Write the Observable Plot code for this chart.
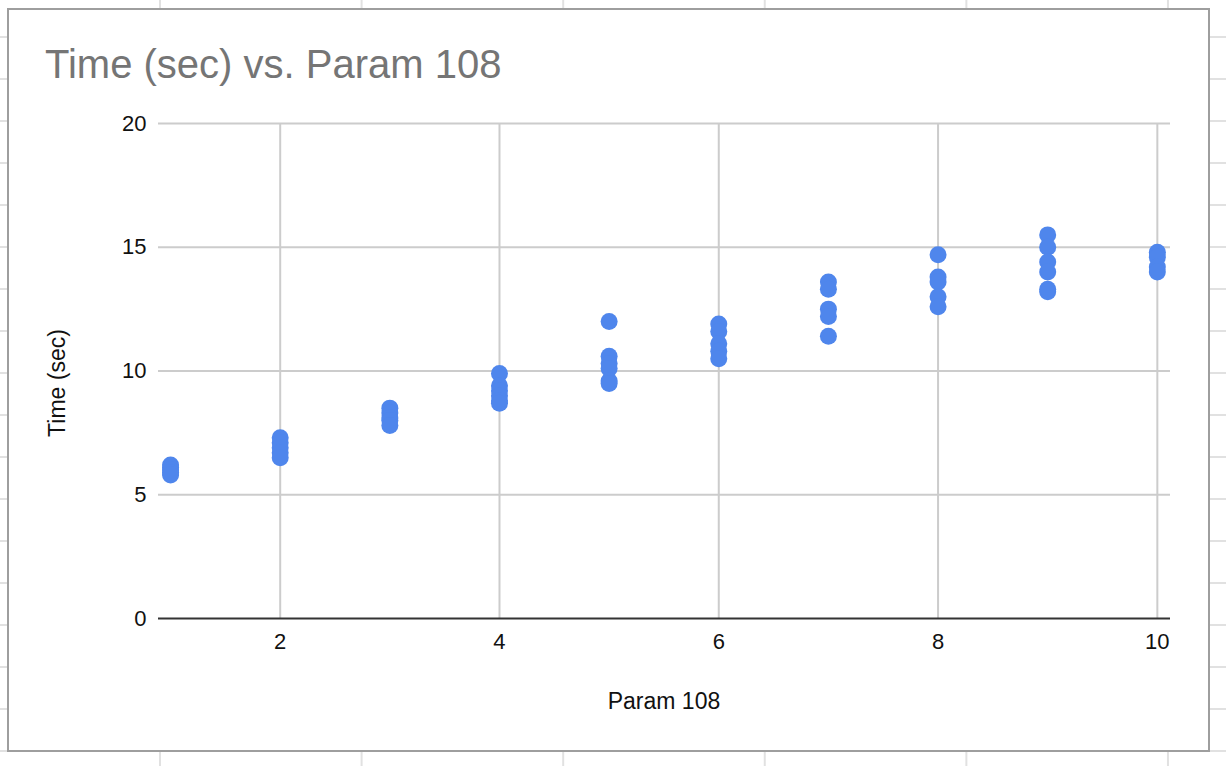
<!DOCTYPE html>
<html>
<head>
<meta charset="utf-8">
<script src="https://cdn.jsdelivr.net/npm/d3@7"></script>
<script src="https://cdn.jsdelivr.net/npm/@observablehq/plot@0.6"></script>
<style>
  html, body { margin: 0; padding: 0; }
  body {
    width: 1226px; height: 766px; position: relative; overflow: hidden;
    background-color: #fff;
    background-image:
      linear-gradient(to right, #e1e1e1 2px, transparent 2px),
      linear-gradient(to bottom, #e1e1e1 2px, transparent 2px);
    background-size: 201.6px 42px, 201.6px 42px;
    background-position: 159px 36px, 159px 36px;
    font-family: "Liberation Sans", Arial, sans-serif;
  }
  #frame {
    position: absolute; left: 7px; top: 8px; width: 1199px; height: 740px;
    border: 2px solid #9e9e9e; background: #fff;
  }
  #chart { position: absolute; left: 0; top: 0; }
  .title {
    position: absolute; left: 45px; top: 44px; font-size: 40px; line-height: 40px;
    color: #757575; white-space: nowrap;
  }
  .xlabel {
    position: absolute; left: 664px; top: 690px; font-size: 23px; line-height: 23px;
    color: #111; transform: translateX(-50%); white-space: nowrap;
  }
  .ylabel {
    position: absolute; left: 57px; top: 383px; font-size: 23px; line-height: 23px;
    color: #111; transform: translate(-50%, -50%) rotate(-90deg); white-space: nowrap;
  }
</style>
</head>
<body>
<div id="frame"></div>
<div id="chart"></div>
<div class="title">Time (sec) vs. Param 108</div>
<div class="ylabel">Time (sec)</div>
<div class="xlabel">Param 108</div>
<script>
const chartTitle = "Time (sec) vs. Param 108";
const xLabel = "Param 108";
const yLabel = "Time (sec)";

const param108 = [1,1,1,1,1, 2,2,2,2,2, 3,3,3,3,3, 4,4,4,4,4,4, 5,5,5,5,5,5, 6,6,6,6,6, 7,7,7,7,7, 8,8,8,8,8, 9,9,9,9,9,9, 10,10,10,10];
const timeSec = [6.2,6.1,6.0,5.9,5.8, 7.3,7.1,6.9,6.7,6.5, 8.5,8.3,8.1,8.0,7.8, 9.9,9.4,9.2,9.0,8.8,8.7, 12.0,10.6,10.3,10.1,9.6,9.5, 11.9,11.6,11.1,10.8,10.5, 13.6,13.3,12.5,12.2,11.4, 14.7,13.8,13.6,13.0,12.6, 15.5,15.0,14.4,14.0,13.3,13.2, 14.8,14.6,14.2,14.0];

const xTicks = [2, 4, 6, 8, 10];
const yTicks = [0, 5, 10, 15, 20];

const rows = param108.map((p, i) => ({param: p, time: timeSec[i]}));

const chart = Plot.plot({
  width: 1226,
  height: 766,
  marginLeft: 158,
  marginRight: 56,
  marginTop: 123,
  marginBottom: 148,
  style: {fontFamily: '"Liberation Sans", Arial, sans-serif', fontSize: "22px", color: "#111", background: "transparent", overflow: "visible"},
  x: {domain: [0.89, 10.12], label: null},
  y: {domain: [0, 20], label: null},
  marks: [
    Plot.gridY(yTicks.filter(d => d !== 0), {stroke: "#cccccc", strokeOpacity: 1, strokeWidth: 2}),
    Plot.gridX(xTicks, {stroke: "#cccccc", strokeOpacity: 1, strokeWidth: 2}),
    Plot.ruleY([0], {stroke: "#333333", strokeWidth: 2}),
    Plot.axisY(yTicks, {tickSize: 0, tickPadding: 12, label: null, fill: "#111"}),
    Plot.axisX(xTicks, {tickSize: 0, tickPadding: 15, label: null, fill: "#111"}),
    Plot.dot(rows, {x: "param", y: "time", r: 8.5, fill: "#4f86ec", stroke: "none"})
  ]
});
document.getElementById("chart").appendChild(chart);
document.querySelector(".title").textContent = chartTitle;
document.querySelector(".xlabel").textContent = xLabel;
document.querySelector(".ylabel").textContent = yLabel;
</script>
</body>
</html>
